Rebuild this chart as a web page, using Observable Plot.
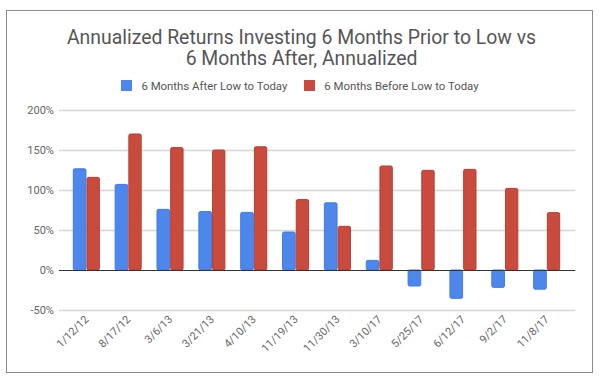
<!DOCTYPE html>
<html>
<head>
<meta charset="utf-8">
<script src="https://cdn.jsdelivr.net/npm/d3@7"></script>
<script src="https://cdn.jsdelivr.net/npm/@observablehq/plot@0.6"></script>
<style>
  html, body { margin: 0; padding: 0; background: #fff; }
  body { width: 599px; height: 381px; position: relative; overflow: hidden; font-family: Roboto, "Noto Sans", sans-serif; }
  #frame { position: absolute; left: 6px; top: 10px; width: 585px; height: 361px; border: 1px solid #8a8a8a; box-sizing: content-box; }
  #title { position: absolute; left: 0; width: 603px; top: 27px; text-align: center; font-size: 19.4px; line-height: 21px; color: #555; }
  #legend { position: absolute; left: 0; width: 600px; top: 79px; text-align: center; font-size: 11.4px; color: #555; white-space: nowrap; }
  .sw { display: inline-block; width: 11px; height: 11px; vertical-align: -1px; margin-right: 9px; }
  .item { display: inline-block; }
  #chart { position: absolute; left: 0; top: 100px; }
</style>
</head>
<body>
<div id="frame"></div>
<div id="title">Annualized Returns Investing 6 Months Prior to Low vs<br>6 Months After, Annualized</div>
<div id="legend"></div>
<div id="chart"></div>
<script>
const dates = ["1/12/12","8/17/12","3/6/13","3/21/13","4/10/13","11/19/13","11/30/13","3/10/17","5/25/17","6/12/17","9/2/17","11/8/17"];
const seriesNames = ["6 Months After Low to Today", "6 Months Before Low to Today"];
const afterLow  = [126.5, 107, 75.8, 73, 72, 47.5, 84, 12, -20, -35.4, -21.7, -24];
const beforeLow = [115.8, 170, 153, 150, 154, 88, 54.6, 130, 124.6, 125.8, 102, 71.7];
const yTicks = [-50, 0, 50, 100, 150, 200];
const colors = ["#4d87eb", "#c94b3d"];
const strokes = ["#3f7be6", "#bb3d30"];

const afterData = dates.map((d, i) => ({date: d, value: afterLow[i]}));
const beforeData = dates.map((d, i) => ({date: d, value: beforeLow[i]}));

// legend
const legend = document.getElementById("legend");
legend.innerHTML = seriesNames.map((s, i) =>
  `<span class="item" style="${i ? 'margin-left:17px' : ''}"><span class="sw" style="background:${colors[i]}"></span>${s}</span>`
).join("");

const chart = Plot.plot({
  width: 599,
  height: 281,
  marginTop: 10,
  marginBottom: 71,
  marginLeft: 65.4,
  marginRight: 31.4,
  style: { fontFamily: "Roboto, sans-serif", fontSize: "11px", color: "#666", background: "transparent" },
  x: { type: "band", domain: dates, padding: 0, round: false, label: null },
  y: { domain: [-50, 200], label: null },
  marks: [
    Plot.ruleY(yTicks.filter(t => t !== 0), { stroke: "#d6d6d6", strokeWidth: 1.3, insetLeft: -6.4, insetRight: -7.6 }),
    Plot.barY(afterData, { x: "date", y: "value", fill: colors[0], stroke: strokes[0], strokeWidth: 1, rx: 1.5, insetLeft: 7.9, insetRight: 21.3 }),
    Plot.barY(beforeData, { x: "date", y: "value", fill: colors[1], stroke: strokes[1], strokeWidth: 1, rx: 1.5, insetLeft: 21.6, insetRight: 7.9 }),
    Plot.ruleY([0], { stroke: "#333", strokeWidth: 1, insetLeft: -6.4, insetRight: -7.6 }),
    Plot.axisY({ ticks: yTicks, tickFormat: d => d + "%", tickSize: 0, tickPadding: 12, fill: "#666" }),
    Plot.axisX({ tickSize: 0, tickRotate: -45, tickPadding: 7, fill: "#666" })
  ]
});
document.getElementById("chart").appendChild(chart);
</script>
</body>
</html>
